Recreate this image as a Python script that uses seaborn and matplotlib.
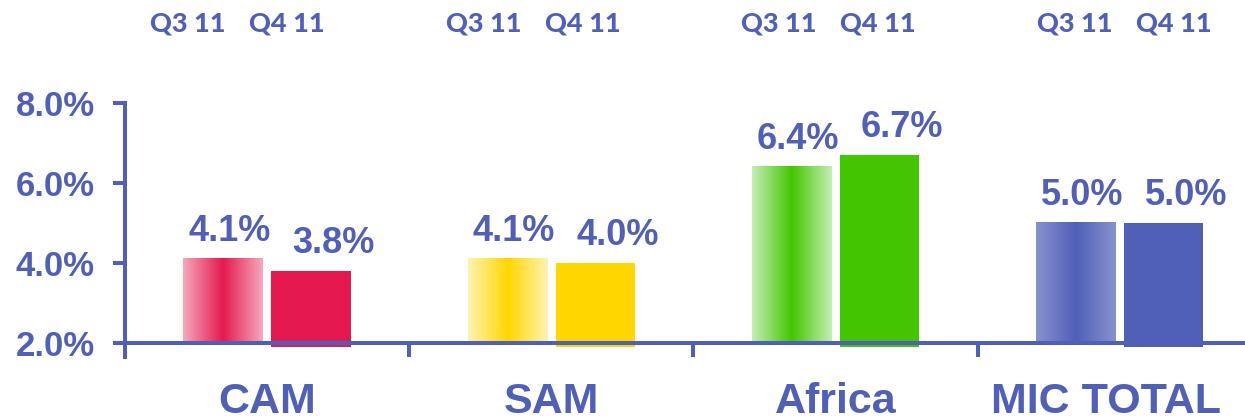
import numpy as np
import pandas as pd
import matplotlib
matplotlib.use('Agg')
import matplotlib.pyplot as plt
import matplotlib.transforms as mtransforms
from matplotlib.colors import to_rgb
import seaborn as sns

# data
regions = ['CAM', 'SAM', 'Africa', 'MIC TOTAL']
quarters = ['Q3 11', 'Q4 11']
q3_values = [4.1, 4.1, 6.4, 5.0]
q4_values = [3.8, 4.0, 6.7, 5.0]
y_ticks = [2.0, 4.0, 6.0, 8.0]

BLUE = '#5060B9'
solid_colors = ['#E5194F', '#FFD600', '#42C600', '#5060B9']
light_colors = ['#F5A8BC', '#FFF3B3', '#C6EEB4', '#8892CF']

df = pd.DataFrame({
    'region': regions * 2,
    'quarter': [quarters[0]] * 4 + [quarters[1]] * 4,
    'value': q3_values + q4_values,
})

sns.set_style('white')
plt.rcParams['font.family'] = ['Liberation Sans', 'DejaVu Sans']

fig = plt.figure(figsize=(12.45, 4.2), dpi=100)
ax = fig.add_axes([0.1004, 0.15, 0.913, 0.6055])

sns.barplot(data=df, x='region', y='value', hue='quarter', order=regions,
            hue_order=quarters, width=0.62, gap=0.1, saturation=1,
            palette=['#888888', '#444444'], linewidth=0, legend=False, ax=ax)

q3_bars, q4_bars = ax.containers[0], ax.containers[1]

# solid Q4 bars start a little below the axis line
for p, c in zip(q4_bars, solid_colors):
    top = p.get_height()
    p.set_y(1.9)
    p.set_height(top - 1.9)
    p.set_facecolor(c)

# Q3 bars get a light-dark-light horizontal gradient
u = np.linspace(0, 1, 256)
t = 1 - np.abs(2 * u - 1)
for p, c, lc in zip(q3_bars, solid_colors, light_colors):
    top = p.get_height()
    p.set_y(2.0)
    p.set_height(top - 2.0)
    p.set_facecolor('none')
    dark, light = np.array(to_rgb(c)), np.array(to_rgb(lc))
    img = light[None, :] * (1 - t[:, None]) + dark[None, :] * t[:, None]
    x0 = p.get_x()
    ax.imshow(img[None, :, :], extent=[x0, x0 + p.get_width(), 2.0, top],
              aspect='auto', interpolation='bilinear', zorder=2)

# value labels
for bars, vals, dx in [(q3_bars, q3_values, 5), (q4_bars, q4_values, 16)]:
    for p, v in zip(bars, vals):
        ax.annotate(f'{v:.1f}%', xy=(p.get_x() + p.get_width() / 2, p.get_y() + p.get_height()),
                    xytext=(dx, 13), textcoords='offset points', ha='center', va='baseline',
                    fontsize=26, fontweight='bold', color=BLUE)

ax.set_xlim(-0.5, 3.5)
ax.set_ylim(1.643, 8.0)

for side in ['top', 'right']:
    ax.spines[side].set_visible(False)
ax.spines['left'].set_color(BLUE)
ax.spines['left'].set_linewidth(2.9)
ax.spines['bottom'].set_color(BLUE)
ax.spines['bottom'].set_linewidth(2.9)
ax.spines['bottom'].set_position(('data', 2.0))

ax.set_yticks(y_ticks)
ax.set_yticklabels([f'{v:.1f}%' for v in y_ticks])
ax.tick_params(axis='y', direction='out', length=8.6, width=2.9, color=BLUE, pad=13,
               labelsize=25, labelcolor=BLUE, left=True)
for lab in ax.get_yticklabels():
    lab.set_fontweight('bold')

ax.set_xticks(range(len(regions)))
ax.set_xticklabels(regions)
ax.set_xticks([0.5, 1.5, 2.5, 3.5], minor=True)
ax.tick_params(axis='x', which='major', length=0, pad=28, labelsize=31, labelcolor=BLUE)
ax.tick_params(axis='x', which='minor', direction='out', length=10, width=2.9, color=BLUE, bottom=True)
for lab in ax.get_xticklabels():
    lab.set_fontweight('bold')
# last label sits a bit left in the original
last = ax.get_xticklabels()[-1]
last.set_transform(last.get_transform() + mtransforms.ScaledTranslation(-0.14, 0, fig.dpi_scale_trans))

ax.set_xlabel('')
ax.set_ylabel('')

# quarter headers above each group
trans = mtransforms.blended_transform_factory(ax.transData, fig.transFigure)
for i in range(len(regions)):
    base = -0.278 + 1.04 * i
    for k, q in enumerate(quarters):
        ax.text(base + 0.348 * k, 0.945, q, transform=trans, ha='center', va='center',
                fontsize=19.5, fontweight='black', color=BLUE, family=['Lato', 'DejaVu Sans'])

fig.savefig('out.png', dpi=100)
